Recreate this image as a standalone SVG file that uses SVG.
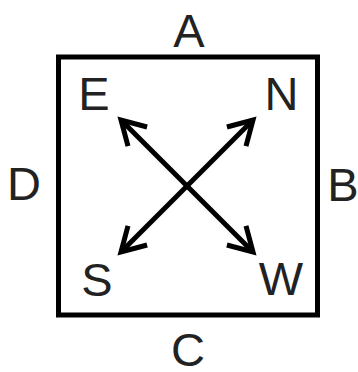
<svg xmlns="http://www.w3.org/2000/svg" width="358" height="372" viewBox="0 0 358 372">
<style>
.lbl{font-family:"Liberation Sans",Arial,sans-serif;font-size:47px;fill:#222;text-anchor:middle}
.frame{fill:none;stroke:#000;stroke-width:5}
.arr{fill:none;stroke:#000;stroke-width:5;marker-start:url(#head);marker-end:url(#head)}
</style>
<defs>
<marker id="head" markerUnits="userSpaceOnUse" markerWidth="40" markerHeight="40" refX="0" refY="0" orient="auto-start-reverse" overflow="visible">
<path d="M-23.4,-13.5 L0,0 L-23.4,13.5" fill="none" stroke="#000" stroke-width="5" stroke-linejoin="miter"/>
</marker>
</defs>
<rect width="358" height="372" fill="#fff"/>
<g id="box"><rect class="frame" x="58.5" y="57" width="259" height="258"/></g>
<g id="labels-sides">
<g id="A"><text class="lbl" x="189" y="46.5">A</text></g>
<g id="B"><text class="lbl" x="343" y="201">B</text></g>
<g id="C"><text class="lbl" x="188" y="366">C</text></g>
<g id="D"><text class="lbl" x="24" y="200">D</text></g>
</g>
<g id="E"><text class="lbl" x="94" y="110">E</text></g>
<g id="N"><text class="lbl" x="281.5" y="110">N</text></g>
<g id="S"><text class="lbl" x="97" y="296">S</text></g>
<g id="W"><text class="lbl" x="281" y="295">W</text></g>
<g id="connectors">
<line class="arr" x1="121" y1="120" x2="253" y2="252"/>
<line class="arr" x1="121" y1="252" x2="253" y2="120"/>
</g>
</svg>
